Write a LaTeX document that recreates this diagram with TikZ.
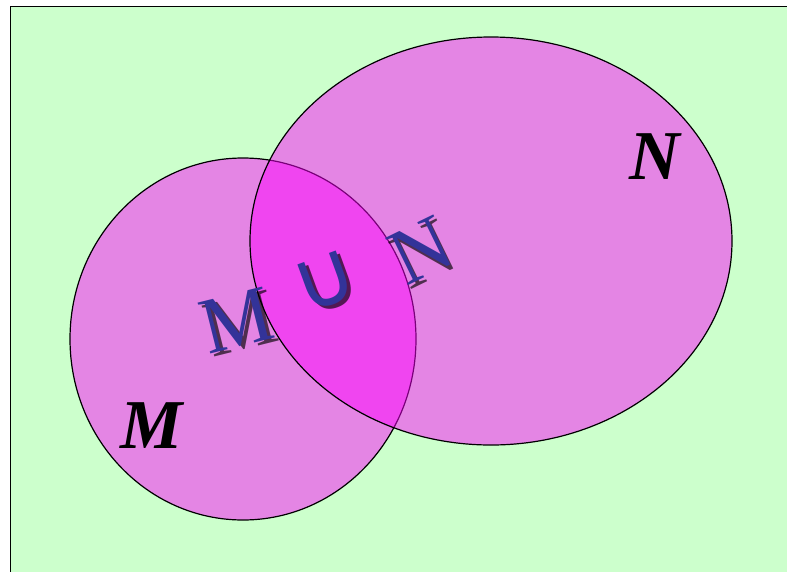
\documentclass[tikz,border=0pt]{standalone}
\usepackage{fontspec}
\setmainfont{Liberation Serif}
\newfontfamily\symfont{DejaVu Sans}
\usetikzlibrary{positioning}
\definecolor{paper}{HTML}{CCFFCC}
\definecolor{setfill}{HTML}{FF00FF}
\definecolor{artblue}{HTML}{333399}

\begin{document}
\begin{tikzpicture}[
    x=1pt, y=-1pt,
    every node/.style={inner sep=0pt},
    setsty/.style={draw=black, line width=1.2pt, fill=setfill, fill opacity=0.48},
    lbl/.style={font=\fontsize{70}{76}\selectfont\bfseries\itshape, text=black},
    arttext/.style={font=\fontsize{80}{86}\selectfont, text=artblue},
    artshadow/.style={font=\fontsize{80}{86}\selectfont, text=black, text opacity=0.65},
    cupfont/.style={font=\symfont\fontsize{86}{92}\selectfont},
]

% === Canvas ===
\clip (0,0) rectangle (787,571);
\draw[fill=paper, line width=1.6pt] (10.5,6.5) rectangle (800,580);

% === Sets ===
\draw[setsty] (243,339) ellipse [x radius=173, y radius=181];
\draw[setsty] (491,241) ellipse [x radius=241, y radius=204];

% === Set labels ===
\node[lbl] (labM) at (152,426) {M};
\node[lbl] (labN) at (655,157) {N};

% === M U N word art ===
% shadows first
\node[artshadow, rotate=14] at (240.5,323.5) {M};
\node[artshadow, cupfont, rotate=20] at (329.5,284.5) {∪};
\node[artshadow, rotate=26] at (424,254) {N};
% letters
\node[arttext, rotate=14] (artM) at (237,320) {M};
\node[arttext, cupfont, rotate=20] (artU) at (326,281) {∪};
\node[arttext, rotate=26] (artN) at (420.5,250.5) {N};

\end{tikzpicture}
\end{document}
